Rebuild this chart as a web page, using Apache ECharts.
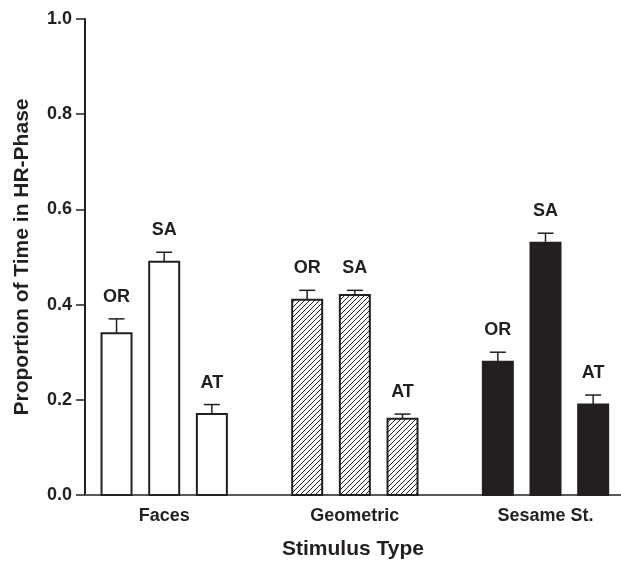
<!DOCTYPE html>
<html>
<head>
<meta charset="utf-8">
<script src="https://cdn.jsdelivr.net/npm/echarts@6/dist/echarts.min.js"></script>
<style>
  html, body { margin: 0; padding: 0; background: #fff; }
  #chart { width: 621px; height: 565px; }
</style>
</head>
<body>
<div id="chart"></div>
<script>
// 数据
const categories = ['Faces', 'Geometric', 'Sesame St.'];
const conditions = ['OR', 'SA', 'AT'];
const orMean = [0.34, 0.41, 0.28];
const orErr = [0.03, 0.02, 0.02];
const saMean = [0.49, 0.42, 0.53];
const saErr = [0.02, 0.01, 0.02];
const atMean = [0.17, 0.16, 0.19];
const atErr = [0.02, 0.01, 0.02];

const ink = '#231f20';
const font = "'Liberation Sans', Arial, Helvetica, sans-serif";

// 斜线填充
function makeHatch() {
  const c = document.createElement('canvas');
  c.width = 5;
  c.height = 5;
  const ctx = c.getContext('2d');
  ctx.strokeStyle = ink;
  ctx.lineWidth = 1;
  ctx.beginPath();
  ctx.moveTo(-1, 6); ctx.lineTo(6, -1);
  ctx.moveTo(-1, 1); ctx.lineTo(1, -1);
  ctx.moveTo(4, 6); ctx.lineTo(6, 4);
  ctx.stroke();
  return c;
}
const groupFills = ['#ffffff', { image: makeHatch(), repeat: 'repeat' }, ink];

function buildSeries(name, means, errs, idx) {
  const offset = (idx - 1) * 0.25;
  return {
    name: name,
    type: 'custom',
    data: means.map((m, g) => [g, m, errs[g]]),
    renderItem: function (params, api) {
      const g = api.value(0);
      const v = api.value(1);
      const e = api.value(2);
      const base = api.coord([g + offset, 0]);
      const top = api.coord([g + offset, v]);
      const errTop = api.coord([g + offset, v + e]);
      const cx = base[0];
      return {
        type: 'group',
        children: [
          {
            type: 'line',
            shape: { x1: cx, y1: top[1], x2: cx, y2: errTop[1] },
            style: { stroke: ink, lineWidth: 1.5 },
          },
          {
            type: 'line',
            shape: { x1: cx - 8, y1: errTop[1], x2: cx + 8, y2: errTop[1] },
            style: { stroke: ink, lineWidth: 1.5 },
          },
          {
            type: 'rect',
            shape: { x: cx - 15, y: top[1], width: 30, height: base[1] - top[1] },
            style: { fill: groupFills[g], stroke: ink, lineWidth: 2 },
          },
          {
            type: 'text',
            x: cx,
            y: errTop[1] - 22,
            style: {
              text: name,
              align: 'center',
              verticalAlign: 'middle',
              fill: ink,
              font: 'bold 18px ' + font,
            },
          },
        ],
      };
    },
  };
}

const chart = echarts.init(document.getElementById('chart'));
chart.setOption({
  animation: false,
  textStyle: { fontFamily: font },
  grid: { left: 85, right: 0, top: 19, bottom: 67 },
  xAxis: {
    type: 'value',
    min: -0.4154,
    max: 2.396,
    name: 'Stimulus Type',
    nameLocation: 'middle',
    nameGap: 44,
    nameTextStyle: { color: ink, fontSize: 21, fontWeight: 'bold' },
    axisLine: { show: true, onZero: false, lineStyle: { color: '#58595b', width: 2 } },
    axisTick: { show: false },
    splitLine: { show: false },
    axisLabel: {
      customValues: [0, 1, 2],
      formatter: (v) => categories[Math.round(v)] || '',
      color: ink,
      fontSize: 18,
      fontWeight: 'bold',
      margin: 12,
    },
  },
  yAxis: {
    type: 'value',
    min: 0,
    max: 1,
    interval: 0.2,
    name: 'Proportion of Time in HR-Phase',
    nameLocation: 'middle',
    nameGap: 52,
    nameTextStyle: { color: ink, fontSize: 21, fontWeight: 'bold' },
    axisLine: { show: true, onZero: false, lineStyle: { color: ink, width: 2 } },
    axisTick: { show: true, length: 9, lineStyle: { color: ink, width: 1.5 } },
    splitLine: { show: false },
    axisLabel: {
      formatter: (v) => v.toFixed(1),
      color: ink,
      fontSize: 18,
      fontWeight: 'bold',
      margin: 13,
    },
  },
  series: [
    buildSeries(conditions[0], orMean, orErr, 0),
    buildSeries(conditions[1], saMean, saErr, 1),
    buildSeries(conditions[2], atMean, atErr, 2),
  ],
});
</script>
</body>
</html>
